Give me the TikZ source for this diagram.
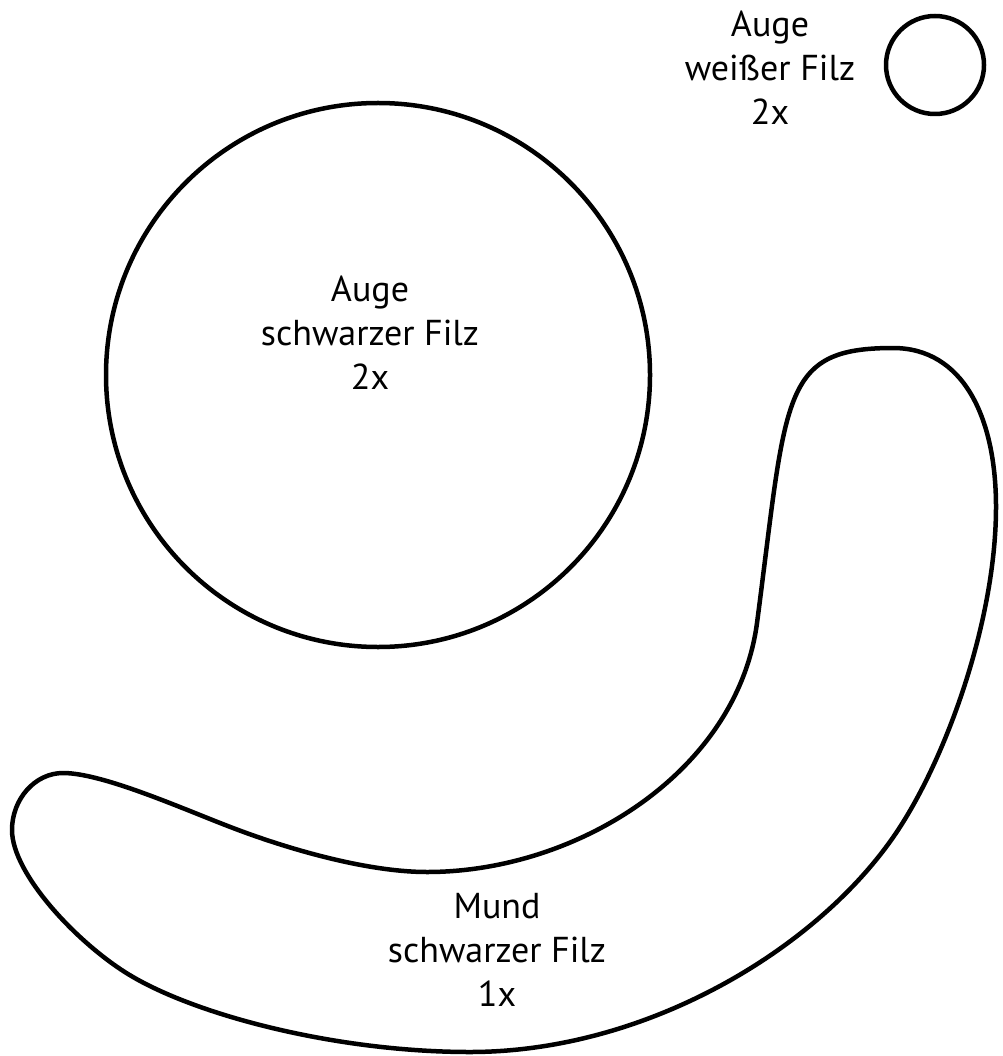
\documentclass[tikz,border=0pt]{standalone}
\usepackage{fontspec}
\setmainfont{PT Sans}
\begin{document}
\begin{tikzpicture}[x=1pt,y=-1pt,
  outline/.style={draw=black,line width=4.5pt},
  label/.style={align=center,font=\fontsize{36}{44}\selectfont,inner sep=0pt}]
\useasboundingbox (0,0) rectangle (1002,1056);
\node[outline,circle,minimum size=98pt,inner sep=0pt] (small) at (935,65) {};
\node[outline,circle,minimum size=544pt,inner sep=0pt] (big) at (378,375) {};
\draw[outline,line join=round] (12,830)
  .. controls (12,799) and (35,773) .. (63,773)
  .. controls (103,773) and (183,809) .. (233,828)
  .. controls (288,849) and (367,872) .. (427,872)
  .. controls (577,872) and (737,772) .. (757,623)
  .. controls (787,395) and (780,348) .. (893,348)
  .. controls (963,348) and (996,417) .. (996,507)
  .. controls (996,617) and (949,751) .. (900,827)
  .. controls (824,945) and (650,1052) .. (470,1052)
  .. controls (340,1052) and (202,1017) .. (133,977)
  .. controls (81,947) and (12,875) .. (12,830) -- cycle;
\node[label] (tsmall) at (770,68) {Auge\\weißer Filz\\2x};
\node[label] (tbig) at (370,333) {Auge\\schwarzer Filz\\2x};
\node[label] (tmund) at (497,950) {Mund\\schwarzer Filz\\1x};
\end{tikzpicture}
\end{document}
